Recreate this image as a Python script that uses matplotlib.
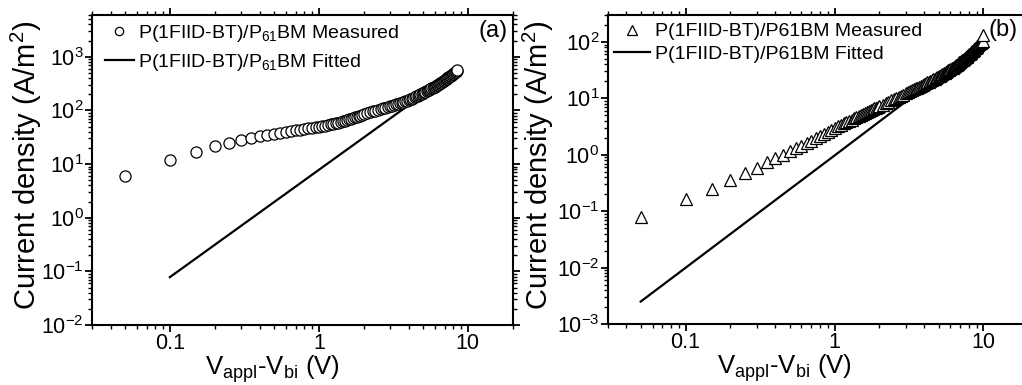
import matplotlib
matplotlib.use('Agg')
import matplotlib.pyplot as plt
from matplotlib.ticker import LogLocator, FixedLocator, FixedFormatter, NullFormatter
import numpy as np

plt.rcParams['font.family'] = ['Liberation Sans', 'DejaVu Sans']
plt.rcParams['mathtext.fontset'] = 'custom'
plt.rcParams['mathtext.rm'] = 'Liberation Sans'
plt.rcParams['mathtext.it'] = 'Liberation Sans:italic'
plt.rcParams['mathtext.default'] = 'regular'

# (a) measured
v_a = [0.05, 0.10, 0.15, 0.20, 0.25, 0.30, 0.35, 0.40, 0.45, 0.50,
       0.55, 0.60, 0.65, 0.70, 0.75, 0.80, 0.85, 0.90, 0.95, 1.00,
       1.05, 1.10, 1.15, 1.20, 1.25, 1.30, 1.35, 1.40, 1.45, 1.50,
       1.55, 1.60, 1.65, 1.70, 1.75, 1.80, 1.85, 1.90, 1.95, 2.00,
       2.1, 2.2, 2.3, 2.4, 2.5, 2.6, 2.7, 2.8, 2.9, 3.0,
       3.1, 3.2, 3.3, 3.4, 3.5, 3.6, 3.7, 3.8, 3.9, 4.0,
       4.1, 4.2, 4.3, 4.4, 4.5, 4.6, 4.7, 4.8, 4.9, 5.0,
       5.1, 5.2, 5.3, 5.4, 5.5, 5.6, 5.7, 5.8, 5.9, 6.0,
       6.1, 6.2, 6.3, 6.4, 6.5, 6.6, 6.7, 6.8, 6.9, 7.0,
       7.1, 7.2, 7.3, 7.4, 7.5, 7.6, 7.7, 7.8, 7.9, 8.0,
       8.1, 8.2, 8.3, 8.4, 8.5]
j_a = [6.1, 11.7, 17.0, 21.3, 24.8, 28.0, 30.6, 32.8, 34.7, 36.4,
       38.0, 39.6, 41.0, 42.4, 43.7, 45.0, 46.2, 47.4, 48.5, 49.6,
       50.8, 52.0, 53.5, 55.0, 56.5, 58.0, 59.5, 61.0, 62.5, 64.0,
       66.0, 68.0, 70.0, 72.0, 74.0, 76.0, 78.0, 80.0, 82.0, 84.0,
       88.0, 92.0, 95.5, 99.0, 102.5, 106, 109.5, 113, 116.5, 120,
       123, 126, 129, 132, 135.5, 139, 143, 147, 151.5, 156,
       161, 166, 171.5, 177, 182.5, 188, 194, 200, 206, 212,
       218, 224, 230.5, 237, 243.5, 250, 257, 264, 271.5, 279,
       287, 295, 303.5, 312, 321, 330, 339.5, 349, 359, 369,
       379.5, 390, 401, 412, 423.5, 435, 447, 459, 471.5, 484,
       497, 510, 525, 540, 575]
v_a_fit = [0.1, 1.0, 8.5]
j_a_fit = [0.078, 7.8, 564]

# (b) measured
v_b = [0.05, 0.10, 0.15, 0.20, 0.25, 0.30, 0.35, 0.40, 0.45, 0.50,
       0.55, 0.60, 0.65, 0.70, 0.75, 0.80, 0.85, 0.90, 0.95, 1.00,
       1.05, 1.10, 1.15, 1.20, 1.25, 1.30, 1.35, 1.40, 1.45, 1.50,
       1.55, 1.60, 1.65, 1.70, 1.75, 1.80, 1.85, 1.90, 1.95, 2.00,
       2.1, 2.2, 2.3, 2.4, 2.5, 2.6, 2.7, 2.8, 2.9, 3.0,
       3.1, 3.2, 3.3, 3.4, 3.5, 3.6, 3.7, 3.8, 3.9, 4.0,
       4.1, 4.2, 4.3, 4.4, 4.5, 4.6, 4.7, 4.8, 4.9, 5.0,
       5.1, 5.2, 5.3, 5.4, 5.5, 5.6, 5.7, 5.8, 5.9, 6.0,
       6.1, 6.2, 6.3, 6.4, 6.5, 6.6, 6.7, 6.8, 6.9, 7.0,
       7.1, 7.2, 7.3, 7.4, 7.5, 7.6, 7.7, 7.8, 7.9, 8.0,
       8.1, 8.2, 8.3, 8.4, 8.5, 8.6, 8.7, 8.8, 8.9, 9.0,
       9.1, 9.2, 9.3, 9.4, 9.5, 9.6, 9.7, 9.8, 9.9, 10.0]
j_b = [0.080, 0.163, 0.25, 0.35, 0.47, 0.59, 0.73, 0.87, 1.01, 1.15,
       1.30, 1.45, 1.61, 1.78, 1.96, 2.15, 2.35, 2.56, 2.78, 3.0,
       3.2, 3.4, 3.6, 3.8, 4.0, 4.2, 4.42, 4.65, 4.88, 5.1,
       5.3, 5.5, 5.72, 5.95, 6.18, 6.4, 6.62, 6.85, 7.08, 7.3,
       7.75, 8.2, 8.7, 9.2, 9.7, 10.2, 10.7, 11.2, 11.7, 12.2,
       12.75, 13.3, 13.85, 14.4, 14.95, 15.5, 16.1, 16.7, 17.3, 17.9,
       18.5, 19.1, 19.75, 20.4, 21.05, 21.7, 22.4, 23.1, 23.85, 24.6,
       25.35, 26.1, 26.9, 27.7, 28.55, 29.4, 30.3, 31.2, 32.15, 33.1,
       34.1, 35.1, 36.15, 37.2, 38.35, 39.5, 40.7, 41.9, 43.2, 44.5,
       45.85, 47.2, 48.65, 50.1, 51.65, 53.2, 54.85, 56.5, 58.25, 60.0,
       61.9, 63.8, 65.8, 67.8, 69.95, 72.1, 74.45, 76.8, 79.3, 81.8,
       84.5, 87.2, 90.1, 93.0, 95.0, 97.0, 100, 103, 106, 135]
v_b_fit = [0.05, 1.0, 10.0]
j_b_fit = [0.0025, 0.97, 97]

xticks = [0.1, 1, 10]
xticklabels = ['0.1', '1', '10']

fig = plt.figure(figsize=(10.22, 3.85), dpi=100)
ax1 = fig.add_axes([0.0900, 0.1558, 0.4116, 0.8052])
ax2 = fig.add_axes([0.5946, 0.1584, 0.4116, 0.8026])


def style(ax, ylim):
    ax.set_xscale('log')
    ax.set_yscale('log')
    ax.set_xlim(0.03, 20)
    ax.set_ylim(*ylim)
    ax.xaxis.set_major_locator(FixedLocator(xticks))
    ax.xaxis.set_major_formatter(FixedFormatter(xticklabels))
    ax.xaxis.set_minor_locator(LogLocator(base=10, subs=np.arange(2, 10), numticks=20))
    ax.xaxis.set_minor_formatter(NullFormatter())
    ax.yaxis.set_major_locator(LogLocator(base=10, numticks=20))
    ax.yaxis.set_minor_locator(LogLocator(base=10, subs=np.arange(2, 10), numticks=20))
    ax.yaxis.set_minor_formatter(NullFormatter())
    ax.tick_params(which='both', direction='out', top=True, right=True)
    ax.tick_params(which='major', length=5, width=1.3, labelsize=15.5, pad=1)
    ax.tick_params(which='minor', length=3, width=1.0)
    for s in ax.spines.values():
        s.set_linewidth(1.5)
    ax.set_xlabel('V$_{appl}$-V$_{bi}$ (V)', fontsize=18.5)
    ax.set_ylabel('Current density (A/m$^2$)', fontsize=21)


style(ax1, (0.01, 6000))
style(ax2, (0.001, 300))

# panel a
fa, = ax1.plot(v_a_fit, j_a_fit, '-', color='black', lw=1.6, zorder=2,
               label='P(1FIID-BT)/P$_{61}$BM Fitted')
ma, = ax1.plot(v_a, j_a, 'o', ls='none', ms=8, mfc='white', mec='black', mew=0.9,
               zorder=3, label='P(1FIID-BT)/P$_{61}$BM Measured')
ax1.legend(handles=[ma, fa], loc='upper left', bbox_to_anchor=(0.03, 0.975),
           frameon=False, fontsize=14, handlelength=1.5, handletextpad=0.2,
           labelspacing=0.4, borderpad=0, borderaxespad=0, markerscale=0.75)
ax1.text(0.953, 0.948, '(a)', transform=ax1.transAxes, fontsize=17,
         ha='center', va='center')
ax1.xaxis.set_label_coords(0.428, -0.09)
ax1.yaxis.set_label_coords(-0.115, 0.516)

# panel b
fb, = ax2.plot(v_b_fit, j_b_fit, '-', color='black', lw=1.6, zorder=2,
               label='P(1FIID-BT)/P61BM Fitted')
mb, = ax2.plot(v_b, j_b, '^', ls='none', ms=9, mfc='white', mec='black', mew=0.9,
               zorder=3, label='P(1FIID-BT)/P61BM Measured')
ax2.legend(handles=[mb, fb], loc='upper left', bbox_to_anchor=(0.015, 0.975),
           frameon=False, fontsize=14, handlelength=1.85, handletextpad=0.25,
           labelspacing=0.25, borderpad=0, borderaxespad=0, markerscale=0.75)
ax2.text(0.94, 0.951, '(b)', transform=ax2.transAxes, fontsize=17,
         ha='center', va='center')
ax2.xaxis.set_label_coords(0.421, -0.09)
ax2.yaxis.set_label_coords(-0.124, 0.515)

fig.savefig('out.png', dpi=100)
